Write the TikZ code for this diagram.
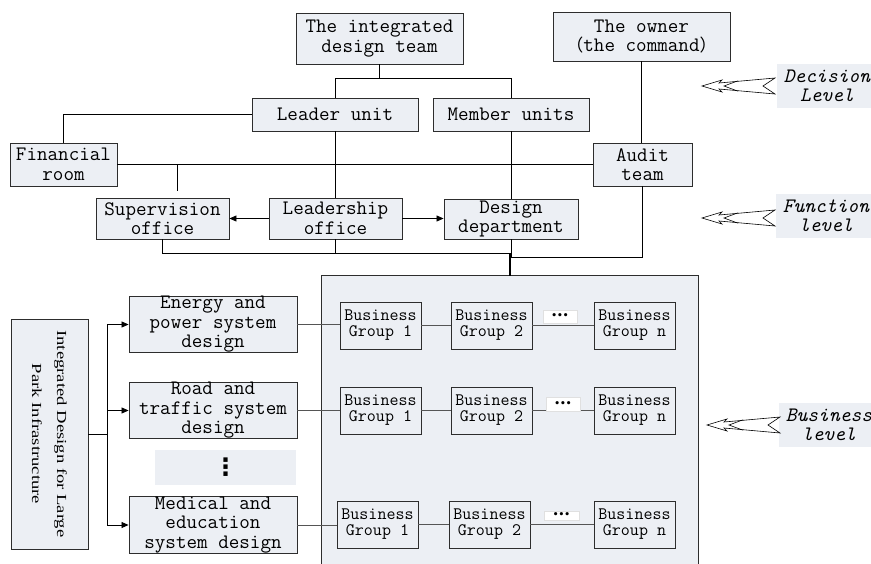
\documentclass[tikz,border=0pt]{standalone}
\usepackage{fontspec}
\usetikzlibrary{arrows.meta}
\newfontfamily\vfont[FakeStretch=1.35]{Liberation Serif}
\newfontfamily\cjk{Noto Sans CJK SC}
\newfontfamily\dejavu{DejaVu Sans}
\definecolor{boxfill}{RGB}{236,239,244}
\definecolor{boxline}{RGB}{45,45,45}
\definecolor{glink}{RGB}{85,85,85}
\begin{document}
\begin{tikzpicture}[x=1pt,y=-1pt,
  box/.style={draw=boxline, fill=boxfill, line width=0.9pt, inner sep=0pt, align=center,
    font=\ttfamily\fontsize{20.5}{19.5}\selectfont},
  bg/.style={box, minimum width=81pt, minimum height=47pt, font=\ttfamily\fontsize{17.5}{16}\selectfont},
  dotsbox/.style={draw=black!12, fill=white, line width=0.6pt, inner sep=0pt,
    font=\dejavu\bfseries\fontsize{9}{9}\selectfont},
  link/.style={draw=black, line width=0.8pt},
  glinkst/.style={draw=glink, line width=0.8pt},
  arr/.style={link, -{Triangle[length=7pt,width=6pt]}},
  lvl/.style={fill=boxfill, inner sep=0pt, align=center, minimum width=100pt, minimum height=44pt,
    font=\ttfamily\itshape\fontsize{20.5}{19.5}\selectfont},
  lvarrow/.style={draw=black, fill=white, line width=0.6pt, line join=miter}
]
\clip (0,0) rectangle (871,563);
\fill[white] (0,0) rectangle (871,563);

% ---- top levels
\node[box, minimum width=167pt, minimum height=51pt] (team) at (379.5,38.5) {The integrated\\design team};
\node[box, minimum width=177pt, minimum height=49pt] (owner) at (641.5,36.5) {The owner\\{\cjk\fontsize{17}{19.5}\selectfont （}the command{\cjk\fontsize{17}{19.5}\selectfont ）}};
\node[box, minimum width=166pt, minimum height=33pt] (leader) at (335,114.5) {Leader unit};
\node[box, minimum width=156pt, minimum height=33pt] (member) at (511,114.5) {Member units};
\node[box, minimum width=107pt, minimum height=43pt] (fin) at (63.5,164.5) {Financial\\room};
\node[box, minimum width=99pt, minimum height=43pt] (audit) at (642.5,164.5) {Audit\\team};
\node[box, minimum width=133pt, minimum height=41pt] (sup) at (162.5,218.5) {Supervision\\office};
\node[box, minimum width=133pt, minimum height=41pt] (lead) at (335.5,218.5) {Leadership\\office};
\node[box, minimum width=134pt, minimum height=40pt] (des) at (511,219) {Design\\department};

\draw[link] (team.south) -- (team.south |- 0,78);
\draw[link] (leader.north) -- (leader.north |- 0,78) -- (member.north |- 0,78) -- (member.north);
\draw[link] (fin.north) -- (fin.north |- leader.west) -- (leader.west);
\draw[link] (fin.east) -- (audit.west);
\coordinate (br) at (177,191);
\draw[link] (br |- fin.east) -- (br);
\draw[link] (leader.south) -- (leader.south |- lead.north);
\draw[link] (member.south) -- (member.south |- des.north);
\draw[link] (owner.south) -- (owner.south |- audit.north);
\draw[arr] (lead.west) -- (lead.west -| sup.east);
\draw[arr] (lead.east) -- (lead.east -| des.west);

% ---- business container
\node[fill=boxfill, minimum width=376pt, minimum height=310pt, inner sep=0pt] (big) at (510,431) {};
\draw[draw=boxline, line width=0.9pt] (big.south west) -- (big.north west) -- (big.north east) -- (big.south east);

\coordinate (jb) at (510,253);
\draw[link] (sup.south) -- (sup.south |- jb) -- (jb);
\draw[link] (lead.south) -- (lead.south |- jb);
\draw[link] (des.south) -- (des.south |- 0,257) -- (audit.south |- 0,257) -- (audit.south);
\draw[draw=black, line width=1.8pt] (jb) -- (jb |- big.north);

% ---- business groups
\node[bg] (bg11) at (380.5,325.5) {Business\\Group 1};
\node[bg] (bg12) at (491.5,325.5) {Business\\Group 2};
\node[bg] (bg1n) at (634.5,325.5) {Business\\Group n};
\node[bg] (bg21) at (380.5,410.5) {Business\\Group 1};
\node[bg] (bg22) at (491.5,410.5) {Business\\Group 2};
\node[bg] (bg2n) at (634.5,410.5) {Business\\Group n};
\node[bg] (bg31) at (377.5,524.5) {Business\\Group 1};
\node[bg] (bg32) at (489.5,524.5) {Business\\Group 2};
\node[bg] (bg3n) at (634.5,524.5) {Business\\Group n};
\draw[glinkst] (bg11.east) -- (bg12.west);
\draw[glinkst] (bg12.east) -- (bg1n.west);
\draw[glinkst] (bg21.east) -- (bg22.west);
\draw[glinkst] (bg22.east) -- (bg2n.west);
\draw[glinkst] (bg31.east) -- (bg32.west);
\draw[glinkst] (bg32.east) -- (bg3n.west);
\node[dotsbox, minimum width=34pt, minimum height=13pt] (d1) at (560,316.5) {•••};
\node[dotsbox, minimum width=34pt, minimum height=14pt] (d2) at (563,404) {•••};
\node[dotsbox, minimum width=35pt, minimum height=9pt] (d3) at (561.5,515.5) {•••};

% ---- left part
\node[box, rotate=-90, minimum width=230pt, minimum height=77pt,
  font=\vfont\fontsize{13.8}{25}\selectfont] (vert) at (49.5,434) {Integrated Design for Large\\Park Infrastructure};
\node[box, minimum width=168pt, minimum height=53pt] (energy) at (213,324.5) {Energy and\\power system\\design};
\node[box, minimum width=168pt, minimum height=53pt] (road) at (213,410.5) {Road and\\traffic system\\design};
\node[fill=boxfill, minimum width=141pt, minimum height=35pt, inner sep=0pt,
  font=\dejavu\bfseries\fontsize{24}{24}\selectfont] (vd) at (225.5,467.5) {⋮};
\node[box, minimum width=168pt, minimum height=54pt] (medical) at (213,525) {Medical and\\education\\system design};

\coordinate (sp) at (107,434);
\draw[link] (vert.north) -- (sp);
\draw[link] (sp |- energy.west) -- (sp |- medical.west);
\draw[arr] (sp |- energy.west) -- (energy.west);
\draw[arr] (sp |- road.west) -- (road.west);
\draw[arr] (sp |- medical.west) -- (medical.west);
\draw[glinkst] (energy.east) -- (energy.east -| bg11.west);
\draw[glinkst] (road.east) -- (road.east -| bg21.west);
\draw[glinkst] (medical.east) -- (medical.east -| bg31.west);

% ---- level labels
\node[lvl] (ldec) at (827,86) {Decision\\Level};
\node[lvl] (lfun) at (826,215.5) {Function\\level};
\node[lvl] (lbus) at (829,425) {Business\\level};
\foreach \px/\py in {702/86, 702/218, 707/425}{
  \draw[lvarrow, shift={(\px,\py)}] (0,0) -- (20,-6) -- (17,-3) -- (73,-8) -- (61,0) -- (73,8) -- (17,3) -- (20,6) -- cycle;
  \draw[lvarrow, fill=none, shift={(\px,\py)}] (36,-5.2) -- (22,0) -- (36,5.2);
}
\end{tikzpicture}
\end{document}
